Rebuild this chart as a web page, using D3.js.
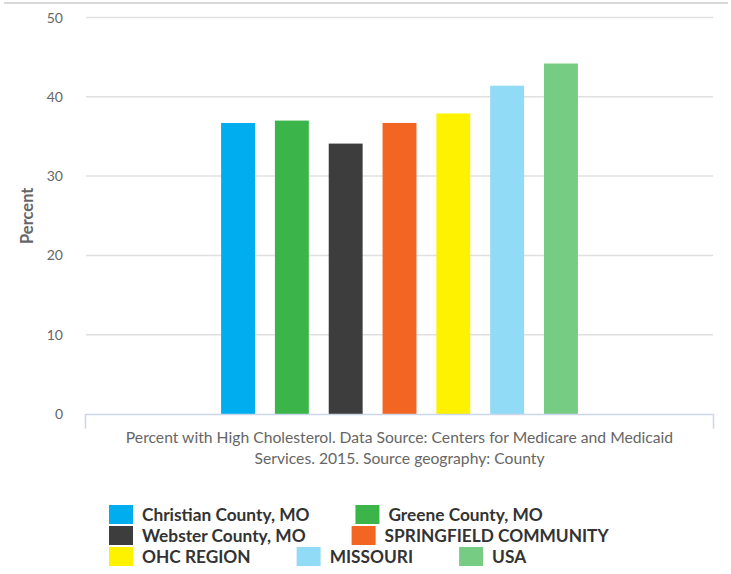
<!DOCTYPE html>
<html>
<head>
<meta charset="utf-8">
<script src="https://cdn.jsdelivr.net/npm/d3@7"></script>
<style>
  body { margin: 0; background: #fff; }
  svg { display: block; font-family: Lato, "Open Sans", sans-serif; }
</style>
</head>
<body>
<div id="container"></div>
<script>
/* CONSTANTS AND GLOBALS */
const width = 731,
  height = 574,
  margin = {top: 17.5, right: 18, bottom: 160, left: 86};

// data
const categories = ["Christian County, MO", "Greene County, MO", "Webster County, MO",
  "SPRINGFIELD COMMUNITY", "OHC REGION", "MISSOURI", "USA"];
const values = [36.7, 37.0, 34.1, 36.7, 37.9, 41.4, 44.2];
const colors = ["#00aeef", "#3bb54a", "#3d3d3d", "#f26522", "#fff200", "#91dbf6", "#77cc84"];
const yTicks = [0, 10, 20, 30, 40, 50];
const captionLines = ["Percent with High Cholesterol. Data Source: Centers for Medicare and Medicaid",
  "Services. 2015. Source geography: County"];

const data = categories.map((c, i) => ({name: c, value: values[i], color: colors[i]}));

const svg = d3.select("#container")
  .append("svg")
  .attr("width", width)
  .attr("height", height);

// top border line
svg.append("line")
  .attr("x1", 4).attr("x2", 728)
  .attr("y1", 3).attr("y2", 3)
  .attr("stroke", "#d8d8d8")
  .attr("stroke-width", 2);

/* SCALES */
const yScale = d3.scaleLinear()
  .domain([0, 50])
  .range([height - margin.bottom, margin.top]);

const xScale = d3.scaleBand()
  .domain(categories)
  .range([margin.left, width - margin.right])
  .paddingInner(0.37)
  .paddingOuter(2.51);

// gridlines
svg.append("g")
  .selectAll("line.grid")
  .data(yTicks.filter(d => d > 0))
  .join("line")
  .attr("class", "grid")
  .attr("x1", margin.left)
  .attr("x2", width - margin.right)
  .attr("y1", d => yScale(d))
  .attr("y2", d => yScale(d))
  .attr("stroke", "#e0e0e0")
  .attr("stroke-width", 1.5);

// y tick labels
svg.append("g")
  .selectAll("text")
  .data(yTicks)
  .join("text")
  .attr("x", 63)
  .attr("y", d => yScale(d) + 5)
  .attr("text-anchor", "end")
  .attr("font-size", 14)
  .attr("fill", "#666")
  .text(d => d);

// y title
svg.append("text")
  .attr("transform", `translate(33, ${yScale(25)}) rotate(-90)`)
  .attr("text-anchor", "middle")
  .attr("font-size", 16.5)
  .attr("font-weight", "bold")
  .attr("fill", "#666")
  .text("Percent");

// bars
svg.append("g")
  .selectAll("rect.bar")
  .data(data)
  .join("rect")
  .attr("class", "bar")
  .attr("x", d => xScale(d.name))
  .attr("width", xScale.bandwidth())
  .attr("y", d => yScale(d.value))
  .attr("height", d => yScale(0) - yScale(d.value))
  .attr("fill", d => d.color);

// x axis line with end ticks
const x0 = margin.left - 0.5, x1 = width - margin.right + 0.5, yb = yScale(0) + 0.5;
svg.append("path")
  .attr("d", `M${x0},${yb + 14}V${yb}H${x1}V${yb + 14}`)
  .attr("fill", "none")
  .attr("stroke", "#ccd6eb")
  .attr("stroke-width", 1.5);

// caption
svg.append("g")
  .selectAll("text")
  .data(captionLines)
  .join("text")
  .attr("x", (margin.left + width - margin.right) / 2)
  .attr("y", (d, i) => 443 + i * 21)
  .attr("text-anchor", "middle")
  .attr("font-size", 15.7)
  .attr("fill", "#666")
  .text(d => d);

// legend (flow layout, wraps like the original)
const legendLeft = 109, legendMax = 620, rowH = 21, symW = 24, symH = 19, gap = 46;
const legend = svg.append("g");
let lx = legendLeft, ly = 505;
data.forEach(d => {
  const t = legend.append("text")
    .attr("font-size", 17.3)
    .attr("font-weight", "bold")
    .attr("fill", "#333")
    .text(d.name);
  const w = t.node().getComputedTextLength();
  const itemW = symW + 9 + w;
  if (lx > legendLeft && lx + itemW > legendMax) {
    lx = legendLeft;
    ly += rowH;
  }
  legend.append("rect")
    .attr("x", lx).attr("y", ly)
    .attr("width", symW).attr("height", symH)
    .attr("fill", d.color);
  t.attr("x", lx + symW + 9).attr("y", ly + 15.5);
  lx += itemW + gap;
});
</script>
</body>
</html>
